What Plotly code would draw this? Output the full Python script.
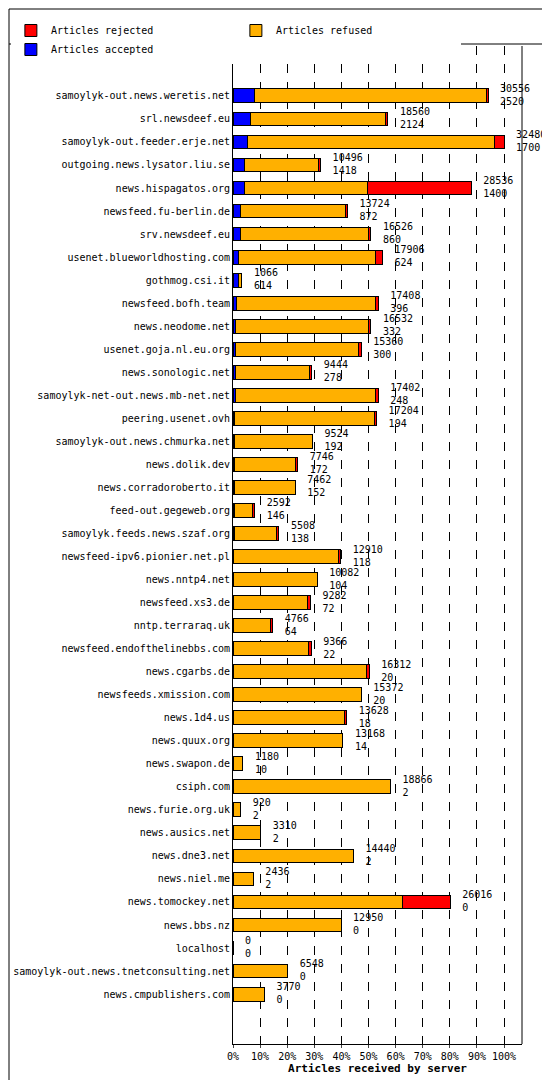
import plotly.graph_objects as go

servers = ["samoylyk-out.news.weretis.net", "srl.newsdeef.eu", "samoylyk-out.feeder.erje.net",
           "outgoing.news.lysator.liu.se", "news.hispagatos.org", "newsfeed.fu-berlin.de",
           "srv.newsdeef.eu", "usenet.blueworldhosting.com", "gothmog.csi.it", "newsfeed.bofh.team",
           "news.neodome.net", "usenet.goja.nl.eu.org", "news.sonologic.net",
           "samoylyk-net-out.news.mb-net.net", "peering.usenet.ovh", "samoylyk-out.news.chmurka.net",
           "news.dolik.dev", "news.corradoroberto.it", "feed-out.gegeweb.org",
           "samoylyk.feeds.news.szaf.org", "newsfeed-ipv6.pionier.net.pl", "news.nntp4.net",
           "newsfeed.xs3.de", "nntp.terraraq.uk", "newsfeed.endofthelinebbs.com", "news.cgarbs.de",
           "newsfeeds.xmission.com", "news.1d4.us", "news.quux.org", "news.swapon.de", "csiph.com",
           "news.furie.org.uk", "news.ausics.net", "news.dne3.net", "news.niel.me",
           "news.tomockey.net", "news.bbs.nz", "localhost", "samoylyk-out.news.tnetconsulting.net",
           "news.cmpublishers.com"]
total = [30556, 18560, 32480, 10496, 28536, 13724, 16526, 17906, 1066, 17408,
         16532, 15360, 9444, 17402, 17204, 9524, 7746, 7462, 2592, 5508,
         12910, 10082, 9282, 4766, 9366, 16312, 15372, 13628, 13168, 1180,
         18866, 920, 3310, 14440, 2436, 26016, 12950, 0, 6548, 3770]
accepted = [2520, 2124, 1700, 1418, 1400, 872, 860, 624, 614, 396,
            332, 300, 278, 248, 194, 192, 172, 152, 146, 138,
            118, 104, 72, 64, 22, 20, 20, 18, 14, 10,
            2, 2, 2, 2, 2, 0, 0, 0, 0, 0]
rejected = [150, 300, 1200, 300, 12450, 300, 300, 840, 0, 300,
            300, 300, 300, 300, 300, 0, 300, 0, 300, 300,
            300, 0, 300, 300, 300, 300, 0, 300, 0, 0,
            0, 0, 0, 0, 0, 5650, 0, 0, 0, 0]
refused = [t - a - r for t, a, r in zip(total, accepted, rejected)]
labels = [f"  {t}<br>  {a}" for t, a in zip(total, accepted)]

top = max(total)
mono = "DejaVu Sans Mono"
L, R, T, B = 225, 36, 38, 44
W, H = 550, 1080
pw, ph = W - L - R, H - T - B

fig = go.Figure()
for name, vals, col in [("Articles accepted", accepted, "#0000ff"),
                        ("Articles refused", refused, "#ffb000"),
                        ("Articles rejected", rejected, "#ff0000")]:
    fig.add_trace(go.Bar(y=servers, x=vals, name=name, orientation="h",
                         marker=dict(color=col, line=dict(color="black", width=1)),
                         width=0.6))
fig.add_trace(go.Scatter(y=servers, x=total, mode="text", text=labels,
                         textposition="middle right", textfont=dict(family=mono, size=10),
                         showlegend=False, cliponaxis=False, hoverinfo="skip"))

fig.update_layout(
    width=W, height=H, barmode="stack",
    paper_bgcolor="white", plot_bgcolor="white",
    font=dict(family=mono, size=10, color="black"),
    margin=dict(l=L, r=R, t=T, b=B, autoexpand=False),
    legend=dict(orientation="h", x=-L / pw + 0.01, xanchor="left", y=1 + 30 / ph, yanchor="top",
                font=dict(family=mono, size=10), entrywidth=180, itemwidth=30),
    xaxis=dict(range=[0, top * 290 / 272], tickvals=[top * i / 10 for i in range(11)],
               ticktext=[f"{i * 10}%" for i in range(11)], tickangle=0, showgrid=True,
               gridcolor="black", griddash="dash", gridwidth=1, zeroline=False,
               showline=True, linecolor="black", ticks="outside", ticklen=3, automargin=False,
               tickfont=dict(family=mono, size=10),
               title=dict(text="<b>Articles received by server</b>", standoff=2,
                          font=dict(family=mono, size=11))),
    yaxis=dict(autorange="reversed", showline=True, linecolor="black", ticks="",
               automargin=False, tickfont=dict(family=mono, size=10)),
)
x0, x1 = -(L - 1) / pw, 1 + (R - 1) / pw
fig.add_shape(type="rect", xref="paper", yref="paper", x0=x0, x1=x1,
              y0=-(B - 1) / ph, y1=1 + (T - 1) / ph, line=dict(color="black", width=1))
fig.add_shape(type="line", xref="paper", yref="paper", x0=x0, x1=x1,
              y0=1 + 2 / ph, y1=1 + 2 / ph, line=dict(color="black", width=1))
fig.add_shape(type="line", xref="paper", yref="paper", x0=1, x1=1, y0=0, y1=1,
              line=dict(color="black", width=1))
fig.write_html("out.html")
